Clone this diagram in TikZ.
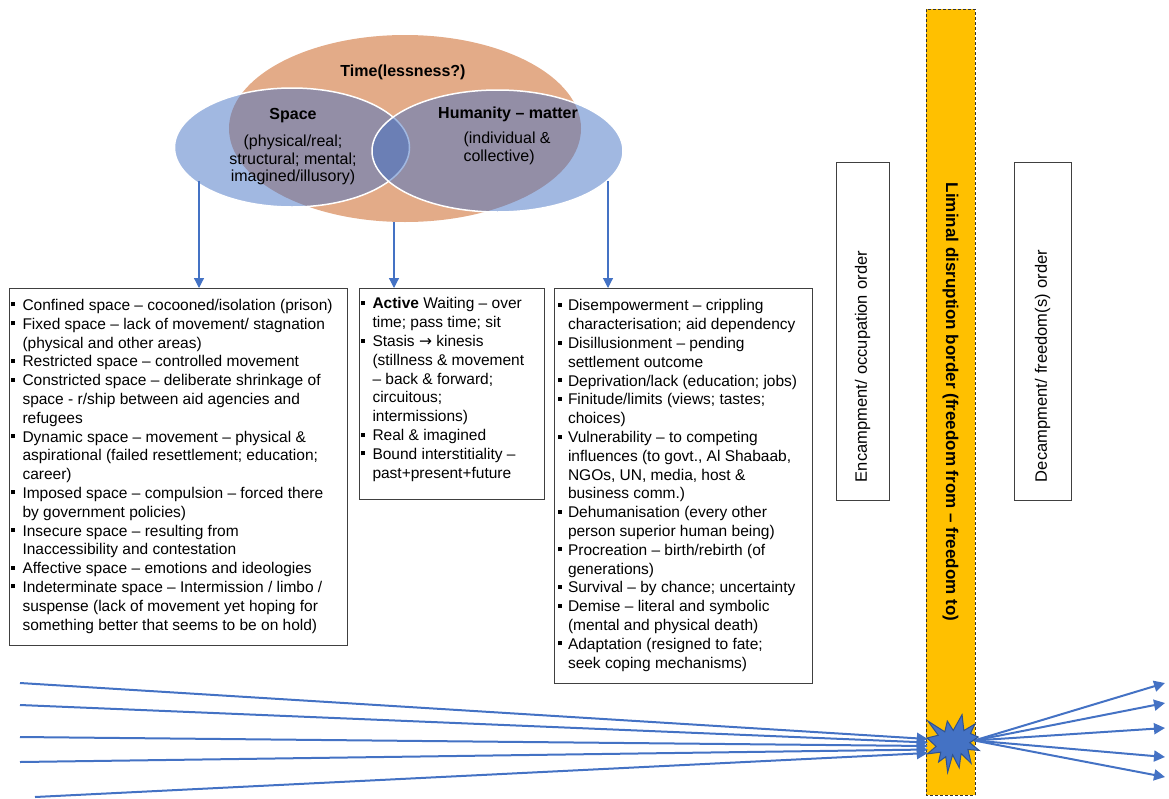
\documentclass[tikz,border=0pt]{standalone}
\usepackage{fontspec}
\setmainfont{Liberation Sans}
\newfontfamily\arrowfont{DejaVu Sans}
\usetikzlibrary{shapes.geometric,arrows.meta,calc}

\definecolor{blueA}{HTML}{4472C4}
\definecolor{blueD}{HTML}{2F528F}
\definecolor{timeor}{RGB}{227,171,136}
\definecolor{gold}{HTML}{FFC000}
\definecolor{frame}{HTML}{404040}

% bulleted entries with a small square marker and a hanging indent
\newlength\bind
\newcommand\bitem[1]{\par\noindent\hangindent=\bind\hangafter=1\strut\makebox[\bind][l]{\rule[4pt]{4pt}{4pt}}#1\par}
% fixed-size, top-aligned list: width, height, top gap, indent, entries
\newcommand\listbox[5]{\parbox[t][#2][t]{#1}{\setlength\bind{#4}\setlength\parskip{0pt}\raggedright
  \fontsize{15.5}{18.8}\selectfont\vspace*{#3}#5}}

\tikzset{
  listnode/.style={draw=frame, line width=1pt, fill=white, inner ysep=0pt, anchor=north west},
  ordernode/.style={draw=frame, line width=1pt, fill=white, rotate=90, inner xsep=18pt,
    align=left, font=\fontsize{16.5}{19}\selectfont},
  venn/.style={ellipse, inner sep=0pt},
  vtitle/.style={font=\fontsize{16}{18}\selectfont\bfseries},
  vbody/.style={font=\fontsize{16}{17.3}\selectfont},
  drop/.style={draw=blueA, line width=1.2pt, -{Triangle[length=10pt,width=10pt]}},
  flow/.style={draw=blueA, line width=2pt, -{Triangle[length=11pt,width=11pt]}},
}

\begin{document}
\begin{tikzpicture}[x=1pt, y=-1pt]
\useasboundingbox (0,0) rectangle (1169,798);

% ---- Venn diagram: time, space, humanity ----
\node[venn, fill=timeor, minimum width=352pt, minimum height=187pt] (time) at (405,128.5) {};
\node[venn, fill=blueA, fill opacity=0.5, draw=white, line width=1.5pt,
      minimum width=235pt, minimum height=119pt] (space) at (292,147.5) {};
\node[venn, fill=blueA, fill opacity=0.5, draw=white, line width=1.5pt,
      minimum width=251pt, minimum height=122pt] (humanity) at (497.5,151) {};

\node[vtitle] (timeT) at (403,72) {Time(lessness?)};
\node[vtitle] (spaceT) at (293,116) {Space};
\node[vbody, align=center] (spaceB) at (293,160) {(physical/real;\\structural; mental;\\imagined/illusory)};
\node[vtitle] (humT) at (508,114) {Humanity – matter};
\node[vbody, align=left, anchor=west] (humB) at (460,148.5) {(individual \&\\collective)};

% ---- the three lists ----
\node[listnode, inner xsep=1pt] (spacelist) at (9,288) {\listbox{336pt}{357pt}{8.8pt}{12pt}{%
\bitem{Confined space – cocooned/isolation (prison)}
\bitem{Fixed space – lack of movement/ stagnation\newline (physical and other areas)}
\bitem{Restricted space – controlled movement}
\bitem{Constricted space – deliberate shrinkage of\newline space - r/ship between aid agencies and\newline refugees}
\bitem{Dynamic space – movement – physical \&\newline aspirational (failed resettlement; education;\newline career)}
\bitem{Imposed space – compulsion – forced there\newline by government policies)}
\bitem{Insecure space – resulting from\newline Inaccessibility and contestation}
\bitem{Affective space – emotions and ideologies}
\bitem{Indeterminate space – Intermission / limbo /\newline suspense (lack of movement yet hoping for\newline something better that seems to be on hold)}}};

\node[listnode, inner xsep=1pt] (timelist) at (359,288) {\listbox{183pt}{211pt}{7.3pt}{12pt}{%
\bitem{\textbf{Active} Waiting – over\newline time; pass time; sit}
\bitem{Stasis {\arrowfont →} kinesis\newline (stillness \& movement\newline – back \& forward;\newline circuitous;\newline intermissions)}
\bitem{Real \& imagined}
\bitem{Bound interstitiality –\newline past+present+future}}};

\node[listnode, inner xsep=3.5pt] (humlist) at (554,288) {\listbox{251pt}{395pt}{9.3pt}{10pt}{%
\bitem{Disempowerment – crippling\newline characterisation; aid dependency}
\bitem{Disillusionment – pending\newline settlement outcome}
\bitem{Deprivation/lack (education; jobs)}
\bitem{Finitude/limits (views; tastes;\newline choices)}
\bitem{Vulnerability – to competing\newline influences (to govt., Al Shabaab,\newline NGOs, UN, media, host \&\newline business comm.)}
\bitem{Dehumanisation (every other\newline person superior human being)}
\bitem{Procreation – birth/rebirth (of\newline generations)}
\bitem{Survival – by chance; uncertainty}
\bitem{Demise – literal and symbolic\newline (mental and physical death)}
\bitem{Adaptation (resigned to fate;\newline seek coping mechanisms)}}};

% ---- drops from the Venn diagram to the lists ----
\coordinate (spaceFoot) at (199,181);
\coordinate (timeFoot) at (394,222);
\coordinate (humFoot) at (608,181);
\draw[drop] (spaceFoot) -- (spaceFoot |- spacelist.north);
\draw[drop] (timeFoot) -- (timeFoot |- timelist.north);
\draw[drop] (humFoot) -- (humFoot |- humlist.north);

% ---- orders and the liminal border ----
\node[ordernode, text width=302pt, minimum height=53pt] (encamp) at (862.5,331) {Encampment/ occupation order};
\node[ordernode, text width=302pt, minimum height=57pt] (decamp) at (1042.5,331) {Decampment/ freedom(s) order};
\node[draw=black!80, dashed, dash pattern=on 3pt off 2pt, line width=0.8pt, fill=gold, rotate=-90,
      minimum width=786pt, minimum height=49pt, inner sep=0pt,
      font=\fontsize{17}{20}\selectfont\bfseries] (border) at (950.5,402)
      {Liminal disruption border (freedom from – freedom to)};

% ---- burst point where the flows cross the border ----
\node[minimum width=50pt, minimum height=55pt, inner sep=0pt] (burst) at (953,743.5) {};

\coordinate (in1) at (20,683);
\coordinate (in2) at (20,705);
\coordinate (in3) at (20,737);
\coordinate (in4) at (20,762);
\coordinate (in5) at (35,797);
\draw[flow] (in1) -- ($(burst.west)+(0,-4.5)$);
\draw[flow] (in2) -- ($(burst.west)+(0,-1)$);
\draw[flow] (in3) -- ($(burst.west)+(0,2.5)$);
\draw[flow] (in4) -- ($(burst.west)+(0,6)$);
\draw[flow] (in5) -- ($(burst.west)+(0,9.5)$);

\coordinate (out1) at (1165,683);
\coordinate (out2) at (1165,703);
\coordinate (out3) at (1165,728);
\coordinate (out4) at (1165,757);
\coordinate (out5) at (1165,777);
\foreach \k in {1,...,5}
  \draw[flow] ($(burst.east)+(-4,-3)$) -- (out\k);

\begin{scope}[shift={(burst.center)}, scale=1.05]
  \draw[fill=blueA, draw=blueD, line width=1pt, line join=miter]
    (0.23,-12.46) -- (-5.42,-21.39) -- (-7.83,-11.14) -- (-23.90,-21.39)
    -- (-14.05,-7.84) -- (-24.75,-5.30) -- (-16.14,2.75) -- (-24.44,9.90)
    -- (-11.64,8.25) -- (-13.73,17.62) -- (-6.90,12.55) -- (-5.12,27.5)
    -- (-0.38,10.79) -- (5.90,23.02) -- (7.70,9.58) -- (17.24,18.83)
    -- (14.21,5.71) -- (25,6.60) -- (16.00,-0.76) -- (24.07,-6.17)
    -- (16.69,-9.49) -- (20.78,-18.51) -- (10.34,-12.33) -- (8.62,-27.5) -- cycle;
\end{scope}
\end{tikzpicture}
\end{document}
